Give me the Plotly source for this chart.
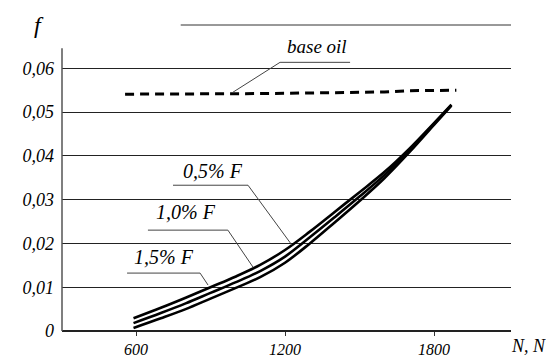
import plotly.graph_objects as go

# ---- data ----
N_base = [556, 800, 1000, 1200, 1400, 1600, 1700, 1890]
f_base = [0.0541, 0.0541, 0.0542, 0.0543, 0.0544, 0.0546, 0.0549, 0.0550]

N_curve = [590, 700, 800, 900, 1000, 1100, 1200, 1300, 1400, 1500, 1600, 1700, 1800, 1870]
f_05 = [0.0029, 0.0053, 0.0076, 0.0100, 0.0124, 0.0151, 0.0185, 0.0227, 0.0272, 0.0317, 0.0363, 0.0416, 0.0475, 0.0517]
f_10 = [0.0018, 0.0041, 0.0063, 0.0087, 0.0111, 0.0137, 0.0170, 0.0214, 0.0260, 0.0307, 0.0356, 0.0412, 0.0473, 0.0516]
f_15 = [0.0007, 0.0029, 0.0050, 0.0074, 0.0098, 0.0123, 0.0156, 0.0200, 0.0248, 0.0297, 0.0349, 0.0408, 0.0471, 0.0515]

y_ticks = [0, 0.01, 0.02, 0.03, 0.04, 0.05, 0.06]
y_ticktext = ["0", "0,01", "0,02", "0,03", "0,04", "0,05", "0,06"]
x_ticks = [600, 1200, 1800]
x_ticktext = ["600", "1200", "1800"]

FONT = "Liberation Serif, Times New Roman, DejaVu Serif, serif"

fig = go.Figure()
fig.add_trace(go.Scatter(x=N_base, y=f_base, mode="lines",
                         line=dict(color="black", width=3, dash="9px,6px"),
                         showlegend=False, hoverinfo="skip"))
for fv in (f_05, f_10, f_15):
    fig.add_trace(go.Scatter(x=N_curve, y=fv, mode="lines", line_shape="spline",
                             line=dict(color="black", width=2.6),
                             showlegend=False, hoverinfo="skip"))

shapes = []
# top decorative line
shapes.append(dict(type="line", xref="x", yref="paper", x0=780, x1=2110, y0=1, y1=1,
                   line=dict(color="#333", width=1)))
# y axis line
shapes.append(dict(type="line", xref="paper", yref="y", x0=0, x1=0, y0=0, y1=0.0646,
                   line=dict(color="#555", width=1.5)))

def leader(pts):
    for (x0, y0), (x1, y1) in zip(pts[:-1], pts[1:]):
        shapes.append(dict(type="line", xref="x", yref="y", x0=x0, y0=y0, x1=x1, y1=y1,
                           line=dict(color="#444", width=1)))

leader([(990, 0.05453), (1180, 0.06137), (1462, 0.06137)])
leader([(749, 0.0333), (1051, 0.0333), (1228, 0.0196)])
leader([(648, 0.02304), (970, 0.02304), (1071, 0.0146)])
leader([(564, 0.01323), (858, 0.01323), (890, 0.0105)])

ann_font = dict(family=FONT, size=20, color="black", style="italic")
annotations = [
    dict(x=1329, y=0.0650, text="base oil", font=dict(family=FONT, size=19, color="black", style="italic")),
    dict(x=910, y=0.0365, text="0,5% F", font=ann_font),
    dict(x=801, y=0.0271, text="1,0% F", font=ann_font),
    dict(x=713, y=0.0169, text="1,5% F", font=ann_font),
]
for a in annotations:
    a.update(xref="x", yref="y", showarrow=False, xanchor="center", yanchor="middle")
annotations.append(dict(xref="paper", yref="paper", x=-0.052, y=1.0, text="f", showarrow=False,
                        xanchor="center", yanchor="middle",
                        font=dict(family=FONT, size=24, color="black", style="italic")))
annotations.append(dict(xref="paper", yref="paper", x=0.996, y=-0.05, text="N, N", showarrow=False,
                        xanchor="left", yanchor="middle",
                        font=dict(family=FONT, size=18, color="black", style="italic")))

fig.update_layout(
    width=546, height=359,
    margin=dict(l=62, r=35, t=25, b=28),
    paper_bgcolor="white", plot_bgcolor="white",
    shapes=shapes, annotations=annotations,
    xaxis=dict(range=[302, 2110], tickvals=x_ticks, ticktext=x_ticktext,
               showgrid=False, zeroline=False, showline=False, automargin=False,
               ticks="outside", ticklen=4, tickcolor="#333", tickwidth=1,
               ticklabelstandoff=0,
               tickfont=dict(family=FONT, size=16, color="black", style="italic")),
    yaxis=dict(range=[0, 0.0699], tickvals=y_ticks, ticktext=y_ticktext,
               showgrid=True, gridcolor="#222", gridwidth=1, automargin=False,
               zeroline=True, zerolinecolor="#222", zerolinewidth=1.5,
               showline=False, ticks="", ticklabelstandoff=7,
               tickfont=dict(family=FONT, size=18, color="black", style="italic")),
)

fig.write_html("out.html")
